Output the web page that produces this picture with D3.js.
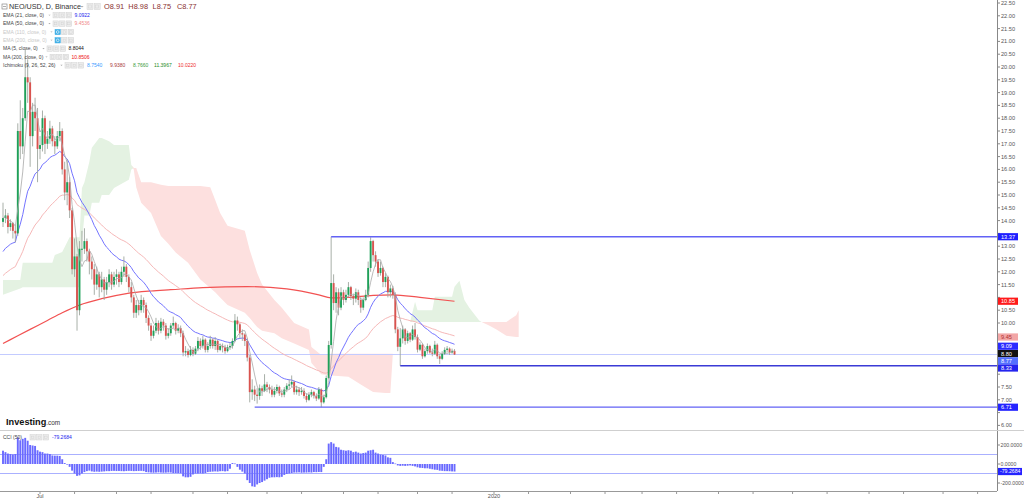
<!DOCTYPE html>
<html><head><meta charset="utf-8">
<script src="https://cdn.jsdelivr.net/npm/d3@7"></script>
<style>
body{margin:0;background:#fff;overflow:hidden}
svg{display:block;font-family:"Liberation Sans",Arial,sans-serif}
</style>
</head><body>
<svg id="chart" width="1024" height="499"></svg>
<script>
// ---------------- DATA ----------------
const firstDay = Date.UTC(2019, 5, 16);           // first candle
const firstOpen = 13.95;
const closes = [14.10,14.20,13.75,13.90,13.60,13.50,17.50,16.90,18.00,19.60,
19.40,17.30,18.25,18.00,16.80,16.95,18.00,17.00,17.20,17.60,
17.10,16.90,17.30,17.50,16.00,15.10,15.50,14.40,12.10,12.60,
10.50,12.90,12.90,13.20,12.80,12.40,12.10,11.50,11.90,11.40,
11.70,11.30,11.60,11.90,11.50,11.80,11.90,11.60,12.00,12.20,
11.80,11.40,11.00,10.40,10.70,10.50,10.90,10.70,10.20,9.90,
9.50,9.70,10.00,9.70,10.05,9.90,9.50,9.60,9.90,10.00,
9.70,9.80,9.60,8.85,8.90,8.75,8.95,8.80,9.00,9.30,
9.10,9.35,8.95,9.10,9.35,9.10,9.30,8.95,9.10,9.05,
8.90,9.05,9.10,9.30,10.10,9.95,9.60,9.55,9.30,8.65,
7.30,7.40,7.20,7.15,7.45,7.35,7.60,7.50,7.40,7.20,
7.35,7.50,7.25,7.20,7.40,7.55,7.60,7.70,7.30,7.40,
7.30,7.35,7.15,7.00,7.20,7.30,7.15,7.05,7.40,6.90,
7.10,7.85,9.14,11.56,10.78,11.20,10.60,11.20,10.90,11.10,
11.40,11.05,10.95,11.20,10.90,10.60,10.90,11.10,12.15,13.20,
12.65,12.40,11.95,12.15,11.60,11.80,11.20,11.35,11.10,9.75,
9.07,9.40,9.75,9.30,9.60,9.35,9.75,9.45,8.96,9.15,
8.70,8.90,9.10,8.85,8.80,9.15,8.70,8.60,8.80,8.95,
9.00,8.85,8.91,8.77];
const highs = [14.70,14.45,14.30,14.05,13.95,13.80,17.80,18.70,18.40,20.70,
20.30,19.60,18.60,18.80,18.40,17.30,18.30,18.10,17.50,17.90,
17.70,17.30,17.50,17.85,17.60,16.30,16.40,15.70,14.50,13.30,
12.70,13.20,13.60,13.70,13.30,12.90,12.60,12.30,12.20,12.00,
12.00,11.80,11.80,12.10,12.00,12.00,12.10,12.00,12.20,12.60,
12.30,11.90,11.60,11.10,10.90,10.90,11.10,11.00,10.80,10.30,
10.00,9.90,10.20,10.10,10.20,10.15,10.00,9.80,10.00,10.25,
10.05,9.95,9.90,9.70,9.10,9.00,9.10,9.05,9.10,9.45,
9.40,9.50,9.40,9.25,9.50,9.40,9.45,9.35,9.20,9.20,
9.15,9.15,9.25,9.40,10.35,10.25,10.00,9.75,9.60,9.40,
8.75,7.80,7.55,7.45,7.60,7.55,8.00,7.70,7.60,7.55,
7.50,7.60,7.55,7.40,7.50,7.65,7.80,7.95,7.75,7.55,
7.50,7.50,7.45,7.25,7.30,7.40,7.35,7.25,7.50,7.45,
7.20,7.95,9.30,13.37,11.90,11.40,11.35,11.40,11.30,11.30,
11.60,11.45,11.15,11.35,11.30,11.00,11.00,11.30,12.40,13.35,
13.25,12.80,12.50,12.40,12.20,11.95,11.85,11.50,11.45,11.20,
9.85,9.80,9.90,9.80,9.70,9.65,9.90,10.00,9.55,9.25,
9.20,9.00,9.20,9.15,9.00,9.30,9.20,8.80,8.90,9.05,
9.10,9.05,9.00,8.98];
const lows = [13.75,13.90,13.50,13.60,13.30,13.15,13.40,16.40,16.60,17.90,
18.60,16.10,16.90,17.50,15.50,16.40,16.70,16.60,16.80,17.00,
16.90,16.60,16.80,17.10,15.80,14.80,14.60,14.10,11.90,11.80,
9.70,10.30,12.40,12.70,12.40,11.90,11.70,11.10,11.30,11.00,
11.20,10.90,11.10,11.40,11.30,11.40,11.50,11.40,11.50,11.80,
11.60,11.20,10.80,10.20,10.20,10.30,10.40,10.40,10.00,9.70,
9.30,9.40,9.60,9.55,9.60,9.70,9.35,9.40,9.50,9.80,
9.55,9.60,9.45,8.70,8.70,8.65,8.70,8.70,8.75,8.90,
8.95,9.00,8.85,8.85,9.00,9.00,8.95,8.85,8.90,8.85,
8.80,8.85,8.95,9.00,9.25,9.70,9.40,9.30,9.10,8.50,
6.90,7.00,6.95,6.85,7.00,7.15,7.30,7.30,7.25,7.10,
7.10,7.25,7.15,7.10,7.10,7.30,7.40,7.50,7.20,7.20,
7.15,7.20,7.05,6.90,6.95,7.10,7.05,6.95,7.00,6.71,
6.85,7.05,7.80,9.00,10.50,10.40,10.30,10.50,10.70,10.80,
11.00,10.90,10.70,10.80,10.70,10.40,10.50,10.85,11.00,12.00,
12.40,12.20,11.80,11.85,11.40,11.40,11.00,11.00,10.95,9.60,
8.90,8.33,9.20,9.15,9.20,9.25,9.30,9.35,8.85,8.90,
8.60,8.65,8.80,8.80,8.70,8.75,8.60,8.40,8.55,8.75,
8.85,8.75,8.80,8.75];

// indicator readings
const ema21Start = 12.66, ema50Start = 11.76;
const ma200Index = [0,6,11,18,24,31,40,50,60,68,81,99,115,128,133,140,150,158,169,183];
const ma200Value = [9.2,9.5,9.75,10.1,10.4,10.7,10.95,11.15,11.25,11.3,11.38,11.42,11.33,11.1,10.98,11.0,11.08,11.1,11.0,10.85];

const cloudIndex = [0,7,8,20,21,24,27,31,32,33,35,36,39,40,43,45,51,52,53,54,56,60,64,67,70,75,80,84,86,88,91,98,100,103,105,110,113,118,124,125,129,133,140,145,150,155,157,158,165,167,168,174,175,182,183,185,187,189,193,194,197,200,204,208,209];
const senkouA = [11.68,11.68,12.35,12.35,12.66,12.77,13.35,13.35,15.27,15.5,16.3,16.85,17.23,17.23,17.1,16.95,16.95,16.17,16.0,15.3,14.7,14.3,13.4,13.1,12.75,12.35,11.7,11.37,11.2,11.0,10.7,10.4,10.2,9.84,9.7,9.6,9.4,9.2,8.95,8.44,8.0,7.95,7.9,7.6,7.3,7.27,7.27,8.8,10.04,10.83,10.5,10.5,11.03,11.03,11.42,11.65,10.9,10.6,10.1,10.04,9.9,9.75,9.5,9.45,9.45];
const senkouB = [11.1,11.35,11.4,11.4,11.4,11.4,11.4,11.4,13.17,14.2,14.2,14.7,14.7,15.0,15.0,15.27,15.6,16.0,16.05,16.05,15.5,15.5,15.4,15.35,15.35,15.35,15.35,15.3,14.8,14.3,13.8,13.6,12.85,11.95,11.5,10.9,10.6,10.0,9.75,9.06,8.75,8.8,8.8,8.8,8.8,8.8,8.8,8.8,10.04,10.04,10.04,10.04,10.04,10.04,10.04,10.04,10.04,10.04,10.04,10.04,10.04,10.04,10.04,10.3,10.5];

const cci = [140,125,110,105,100,105,
280,250,265,275,245,
200,195,190,145,130,125,110,110,105,90,88,88,85,50,10,-5,
-30,-70,-100,-125,-120,-100,-85,-75,-70,-78,-82,-80,-82,-80,-78,-75,-75,-73,
-72,-74,-73,-75,-76,-74,-72,-73,-75,-74,-73,-72,-75,
-85,-88,-90,-92,-90,-88,-90,-92,-91,-89,-90,
-95,-95,-96,-97,
-130,-140,-140,-135,-110,
-100,-100,-98,-100,-95,
-85,-82,-80,-78,-80,-76,-75,-78,-75,
-50,10,5,-30,-60,-80,-100,
-170,-200,-235,-240,-215,-200,-190,-175,-160,-145,
-140,-140,-138,-140,-135,
-115,-105,-100,-95,
-90,-90,-88,-92,-90,-90,-88,-90,
-85,-86,-84,-85,
-30,50,
215,230,215,180,175,150,145,140,145,140,125,130,120,110,115,120,140,145,150,120,110,100,95,90,70,65,20,5,-15,-20,-18,-20,-18,-15,-20,-25,-35,-40,-42,-45,-45,-50,-55,-60,-62,-70,-72,-75,-75,-76,-78,-79.2684];

// drawn horizontal levels
const levelStart = [133, 161, 102];
const levelValue = [13.37, 8.33, 6.71];
const lastPrice = 8.77;

// axis tick labels
const priceLabels = ["22.50","22.00","21.50","21.00","20.50","20.00","19.50","19.00","18.50","18.00","17.50","17.00","16.50","16.00","15.50","15.00","14.50","14.00","13.50","13.00","12.50","12.00","11.50","11.00","10.50","10.00","9.50","9.00","8.50","8.00","7.50","7.00","6.50","6.00"];
const cciLabels = ["200.0000","0.0000","-200.0000"];
const cciLabelValues = [200, 0, -200];
const cciBadgeLabel = "-79.2684";
const badgeLabels = ["13.37","10.85","9.45","9.09","8.80","8.77","8.33","6.71"];
const badgeValues = [13.37,10.8506,9.4536,9.0922,8.8044,8.77,8.33,6.71];
const badgeColors = ["#1f1fff","#ff1a1a","#f2a6a6","#2b2bff","#111111","#5470ff","#2424ee","#2424ff"];
const timeTickDates = ["2019-07-01","2019-07-15","2019-08-01","2019-08-15","2019-09-01","2019-09-15","2019-10-01","2019-10-15","2019-11-01","2019-11-15","2019-12-01","2019-12-15","2020-01-01","2020-01-15","2020-02-01","2020-02-15","2020-03-01","2020-03-15","2020-04-01","2020-04-15","2020-05-01","2020-05-15","2020-06-01","2020-06-15","2020-07-01","2020-07-15"];
const timeLabelDates = ["2019-07-01","2020-01-01"];
const timeLabels = ["Jul","2020"];

// legend
const legendNames = ["EMA (21, close, 0)","EMA (50, close, 0)","EMA (110, close, 0)","EMA (200, close, 0)","MA (5, close, 0)","MA (200, close, 0)","Ichimoku (9, 26, 52, 26)"];
const legendValues = ["9.0922","9.4536","","","8.8044","10.8506",""];
const ichimokuValues = ["8.7540","9.9380","8.7660","11.3967","10.0220"];
const ichimokuColors = ["#3a9bff","#a83a3a","#3c9a3c","#1e8c1e","#ee2b2b"];
const headerTitle = "NEO/USD, D, Binance";
const ohlcLabels = ["O8.91","H8.98","L8.75","C8.77"];

// ---------------- CHART ----------------
const svg = d3.select("#chart");
const DAY = 86400000;
const opens = closes.map((c, i) => i === 0 ? firstOpen : closes[i - 1]);

const axisX = 997, paneBottom = 430, cciTop = 431, cciBottom = 491;
const x = d3.scaleUtc().domain([new Date(firstDay), new Date(Date.UTC(2020,0,1))]).range([3, 494]);
const y = d3.scaleLinear().domain([6.5, 22.5]).range([412.6, 3]);
const yc = d3.scaleLinear().domain([-200, 200]).range([483, 445]);
const xi = i => x(new Date(firstDay + i * DAY));

const defs = svg.append("defs");
defs.append("clipPath").attr("id","mainClip").append("rect").attr("x",0).attr("y",0).attr("width",axisX).attr("height",paneBottom);
defs.append("clipPath").attr("id","cciClip").append("rect").attr("x",0).attr("y",cciTop).attr("width",axisX).attr("height",cciBottom-cciTop);

const main = svg.append("g").attr("clip-path","url(#mainClip)");

// Ichimoku cloud
const cloud = cloudIndex.map((j, k) => ({j, a: senkouA[k], b: senkouB[k]}));
main.append("path").datum(cloud)
  .attr("d", d3.area().x(d => xi(d.j)).y0(d => y(d.b)).y1(d => y(Math.max(d.a, d.b))))
  .attr("fill", "#e4f2e2");
main.append("path").datum(cloud)
  .attr("d", d3.area().x(d => xi(d.j)).y0(d => y(d.a)).y1(d => y(Math.max(d.a, d.b))))
  .attr("fill", "#fde0df");

// current price line
main.append("line").attr("x1",0).attr("x2",axisX).attr("y1",y(lastPrice)).attr("y2",y(lastPrice))
  .attr("stroke","#c3cbff").attr("stroke-width",1);

// indicators
const ema = (start, n) => { const k = 2/(n+1); let v = start; return closes.map(c => (v = c*k + v*(1-k))); };
const ema21 = ema(ema21Start, 21), ema50 = ema(ema50Start, 50);
const ma5 = closes.map((c, i) => d3.mean(closes.slice(Math.max(0, i-4), i+1)));
const line = d3.line().x((d,i) => xi(i)).y(d => y(d));

main.append("path").datum(ma200Index.map((j,k)=>[j, ma200Value[k]]))
  .attr("d", d3.line().x(d=>xi(d[0])).y(d=>y(d[1])).curve(d3.curveMonotoneX))
  .attr("fill","none").attr("stroke","#f25252").attr("stroke-width",1.2);
main.append("path").datum(ema50).attr("d", line).attr("fill","none").attr("stroke","#f6b8b8").attr("stroke-width",1);
main.append("path").datum(ema21).attr("d", line).attr("fill","none").attr("stroke","#7474ff").attr("stroke-width",1);

// candles
const cg = main.append("g");
closes.forEach((c, i) => {
  const o = opens[i], h = Math.max(highs[i], o, c), l = Math.min(lows[i], o, c);
  const cx = xi(i);
  cg.append("line").attr("x1",cx).attr("x2",cx).attr("y1",y(h)).attr("y2",y(l)).attr("stroke","#9ea69e").attr("stroke-width",0.9);
  const top = y(Math.max(o,c)), bot = y(Math.min(o,c));
  cg.append("rect").attr("x",cx-0.95).attr("width",1.9).attr("y",top).attr("height",Math.max(1, bot-top))
    .attr("fill", c >= o ? "#1fa159" : "#d9534f");
});
main.append("path").datum(ma5).attr("d", line).attr("fill","none").attr("stroke","#a8a8a8").attr("stroke-width",0.8);

// drawn levels
levelValue.forEach((v, k) => {
  main.append("line").attr("x1", xi(levelStart[k])).attr("x2", axisX).attr("y1", y(v)).attr("y2", y(v))
    .attr("stroke", k === 1 ? "#3b3bd6" : "#6262f5").attr("stroke-width", 1.3);
});

// pane frames
svg.append("line").attr("x1",axisX+0.5).attr("x2",axisX+0.5).attr("y1",0).attr("y2",cciBottom).attr("stroke","#888");
svg.append("line").attr("x1",0).attr("x2",1024).attr("y1",paneBottom+0.5).attr("y2",paneBottom+0.5).attr("stroke","#cfcfcf");
svg.append("line").attr("x1",0).attr("x2",axisX).attr("y1",cciBottom+0.5).attr("y2",cciBottom+0.5).attr("stroke","#999");

// badge positions (stacked to avoid overlap)
const order = badgeValues.map((v,k)=>k).sort((a,b)=>badgeValues[b]-badgeValues[a]);
const badgeY = [];
let prevY = -100;
order.forEach(k => { let by = y(badgeValues[k]); if (by - prevY < 7.2) by = prevY + 7.2; prevY = by; badgeY[k] = by; });

// price axis
const ay = svg.append("g").attr("font-size",5.6).attr("fill","#555");
priceLabels.forEach(t => {
  const yy = y(+t);
  ay.append("line").attr("x1",axisX).attr("x2",axisX+3).attr("y1",yy).attr("y2",yy).attr("stroke","#888");
  if (badgeY.every(by => Math.abs(by - yy) >= 6.6))
    ay.append("text").attr("x",axisX+4).attr("y",yy).attr("dy","0.35em").text(t);
});
badgeLabels.forEach((t,k) => {
  const by = badgeY[k];
  ay.append("rect").attr("x",axisX+1).attr("y",by-3.6).attr("width",20).attr("height",7.2).attr("fill",badgeColors[k]);
  ay.append("text").attr("x",axisX+4).attr("y",by).attr("dy","0.35em")
    .attr("fill", k===2 ? "#b03030" : "#fff").text(t);
});

// CCI pane
const cciG = svg.append("g").attr("clip-path","url(#cciClip)");
[100,-100].forEach(v => cciG.append("line").attr("x1",0).attr("x2",axisX).attr("y1",yc(v)).attr("y2",yc(v)).attr("stroke","#aab0ff").attr("stroke-width",1));
cci.forEach((v,i) => {
  const cx = xi(i);
  cciG.append("rect").attr("x",cx-0.95).attr("width",1.9)
    .attr("y", Math.min(yc(v), yc(0))).attr("height", Math.max(0.6, Math.abs(yc(v)-yc(0))))
    .attr("fill","#6a6aff");
});
const ac = svg.append("g").attr("font-size",5.2).attr("fill","#555");
cciLabelValues.forEach((v,k) => {
  ac.append("line").attr("x1",axisX).attr("x2",axisX+3).attr("y1",yc(v)).attr("y2",yc(v)).attr("stroke","#888");
  ac.append("text").attr("x",axisX+3.5).attr("y",yc(v)).attr("dy","0.35em").text(cciLabels[k]);
});
const lastCci = cci[cci.length-1];
ac.append("rect").attr("x",axisX+1).attr("y",yc(lastCci)-3.6).attr("width",24).attr("height",7.2).attr("fill","#2424ff");
ac.append("text").attr("x",axisX+3).attr("y",yc(lastCci)).attr("dy","0.35em").attr("fill","#fff").text(cciBadgeLabel);

// time axis
const at = svg.append("g").attr("font-size",5.6).attr("fill","#555");
timeTickDates.forEach(s => {
  const xx = x(new Date(s+"T00:00:00Z"));
  if (xx < axisX) at.append("line").attr("x1",xx).attr("x2",xx).attr("y1",cciBottom).attr("y2",cciBottom+3).attr("stroke","#999");
});
timeLabelDates.forEach((s,k) => {
  at.append("text").attr("x",x(new Date(s+"T00:00:00Z"))).attr("y",497.5).attr("text-anchor","middle").text(timeLabels[k]);
});

// ---------------- LEGEND ----------------
const lg = svg.append("g");
function boxes(x0, yy, n, size, firstBlue) {
  for (let k = 0; k < n; k++) {
    const blue = firstBlue && k === 0;
    const bx = x0 + k*(size+1.2);
    lg.append("rect").attr("x", bx).attr("y", yy - size/2).attr("width", size).attr("height", size)
      .attr("fill", blue ? "#43b0e6" : "#ececec").attr("stroke", blue ? "#43b0e6" : "#d2d2d2").attr("stroke-width",0.5);
    if (!blue) lg.append("rect").attr("x", bx+1.5).attr("y", yy - size/2+1.5).attr("width", size-3).attr("height", size-3)
      .attr("fill","none").attr("stroke","#cfcfcf").attr("stroke-width",0.4);
    else lg.append("circle").attr("cx", bx + size/2).attr("cy", yy).attr("r", size/4).attr("fill","none").attr("stroke","#fff").attr("stroke-width",0.6);
  }
}
function caret(cx, cy, s) {
  lg.append("path").attr("d", `M${cx-s},${cy-s/2}L${cx+s},${cy-s/2}L${cx},${cy+s/2}Z`).attr("fill","#aaa");
}
// header
lg.append("rect").attr("x",2).attr("y",4).attr("width",5).attr("height",5).attr("fill","none").attr("stroke","#777").attr("stroke-width",0.6);
lg.append("line").attr("x1",3).attr("x2",6).attr("y1",6.5).attr("y2",6.5).attr("stroke","#777").attr("stroke-width",0.6);
lg.append("text").attr("x",9).attr("y",9.3).attr("font-size",7.2).attr("fill","#333").text(headerTitle);
caret(82, 6.8, 1.6);
boxes(87, 6.5, 2, 6, false);
ohlcLabels.forEach((t,k) => lg.append("text").attr("x",104 + k*24.3).attr("y",9.3).attr("font-size",7.4).attr("fill","#8a3030").text(t));

const rowY = [15.2, 23.6, 32.0, 40.3, 48.6, 57.0, 65.4];
const rowBox = [53, 53, 55, 55, 47, 50, 65];
const rowColor = ["#444","#444","#c8c8c8","#c8c8c8","#444","#444","#444"];
const rowValueColor = ["#2222ee","#f08a8a","","","#111","#ee1111",""];
legendNames.forEach((n,k) => {
  lg.append("text").attr("x",3).attr("y",rowY[k]+1.8).attr("font-size",5).attr("fill",rowColor[k]).text(n);
  caret(rowBox[k]-3.5, rowY[k], 1.1);
  boxes(rowBox[k], rowY[k], 3, 5.4, k===2||k===3);
  if (legendValues[k]) lg.append("text").attr("x",rowBox[k]+21.5).attr("y",rowY[k]+1.8).attr("font-size",5).attr("fill",rowValueColor[k]).text(legendValues[k]);
});
const ichX = [87, 110, 133, 154, 178];
ichimokuValues.forEach((v,k) => lg.append("text").attr("x",ichX[k]).attr("y",rowY[6]+1.8).attr("font-size",5).attr("fill",ichimokuColors[k]).text(v));

// CCI legend
lg.append("text").attr("x",3).attr("y",439).attr("font-size",5).attr("fill","#444").text("CCI (50)");
boxes(30, 437.3, 3, 5.4, false);
lg.append("text").attr("x",52).attr("y",439).attr("font-size",5).attr("fill","#2222ee").text(cciBadgeLabel);

// Investing.com logo
const logo = lg.append("text").attr("x",6).attr("y",424.5);
logo.append("tspan").attr("font-size",9.2).attr("font-weight","bold").attr("fill","#111").text("Investing");
logo.append("tspan").attr("font-size",6.4).attr("fill","#333").text(".com");
</script>
</body></html>
